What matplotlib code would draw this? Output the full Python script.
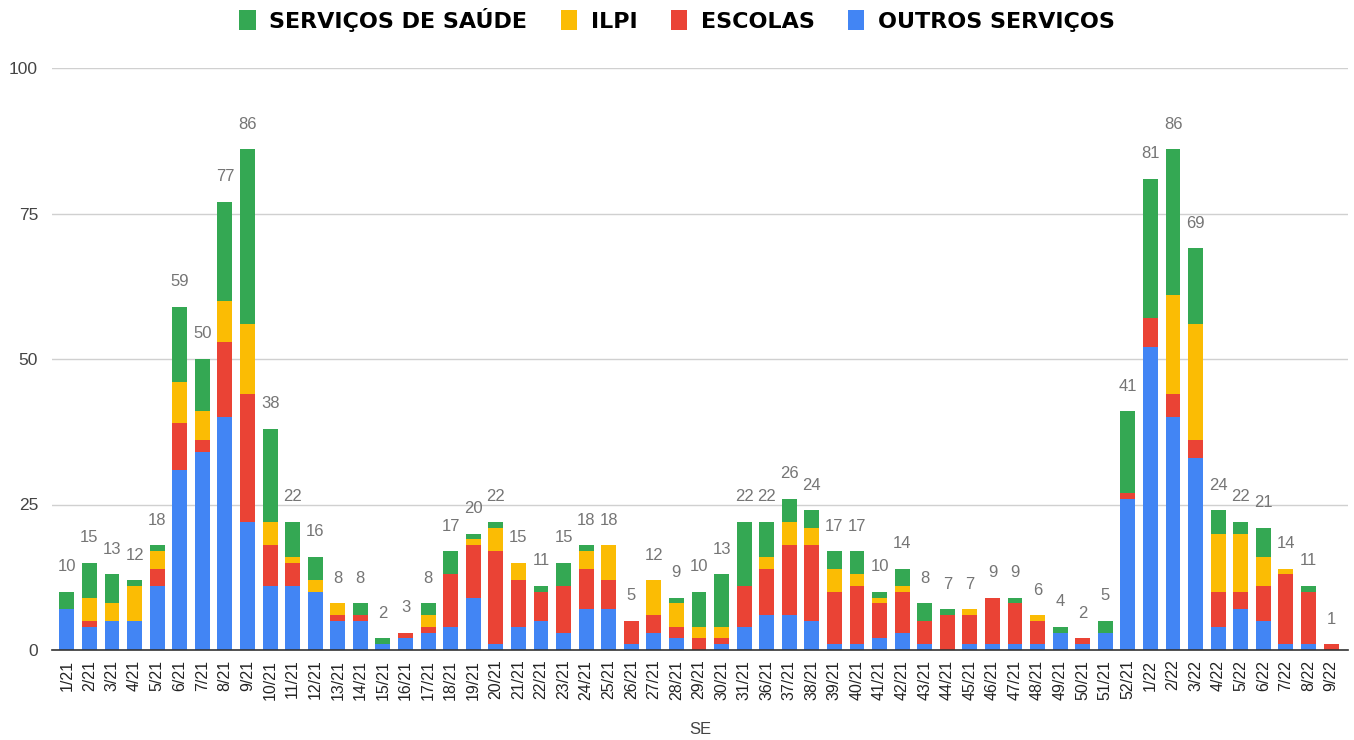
import matplotlib.pyplot as plt
import numpy as np

# semanas epidemiologicas
semanas = [f"{i}/21" for i in range(1, 32)] + [f"{i}/21" for i in range(36, 53)] + [f"{i}/22" for i in range(1, 10)]

outros = [7, 4, 5, 5, 11, 31, 34, 40, 22, 11, 11, 10, 5, 5, 1, 2, 3, 4, 9, 1, 4, 5, 3, 7, 7, 1, 3, 2, 0, 1, 4,
          6, 6, 5, 1, 1, 2, 3, 1, 0, 1, 1, 1, 1, 3, 1, 3, 26,
          52, 40, 33, 4, 7, 5, 1, 1, 0]
escolas = [0, 1, 0, 0, 3, 8, 2, 13, 22, 7, 4, 0, 1, 1, 0, 1, 1, 9, 9, 16, 8, 5, 8, 7, 5, 4, 3, 2, 2, 1, 7,
           8, 12, 13, 9, 10, 6, 7, 4, 6, 5, 8, 7, 4, 0, 1, 0, 1,
           5, 4, 3, 6, 3, 6, 12, 9, 1]
ilpi = [0, 4, 3, 6, 3, 7, 5, 7, 12, 4, 1, 2, 2, 0, 0, 0, 2, 0, 1, 4, 3, 0, 0, 3, 6, 0, 6, 4, 2, 2, 0,
        2, 4, 3, 4, 2, 1, 1, 0, 0, 1, 0, 0, 1, 0, 0, 0, 0,
        0, 17, 20, 10, 10, 5, 1, 0, 0]
saude = [3, 6, 5, 1, 1, 13, 9, 17, 30, 16, 6, 4, 0, 2, 1, 0, 2, 4, 1, 1, 0, 1, 4, 1, 0, 0, 0, 1, 6, 9, 11,
         6, 4, 3, 3, 4, 1, 3, 3, 1, 0, 0, 1, 0, 1, 0, 2, 14,
         24, 25, 13, 4, 2, 5, 0, 1, 0]

cores = {"SERVIÇOS DE SAÚDE": "#34A853", "ILPI": "#FBBC04", "ESCOLAS": "#EA4335", "OUTROS SERVIÇOS": "#4285F4"}

plt.rcParams['font.family'] = ['Liberation Sans', 'DejaVu Sans']

fig = plt.figure(figsize=(13.54, 7.4), dpi=100)
ax = fig.add_axes([52 / 1354, 1 - 650 / 740, 1296 / 1354, 582 / 740])

x = np.arange(len(semanas))
w = 0.66
b1 = np.array(outros)
b2 = b1 + np.array(escolas)
b3 = b2 + np.array(ilpi)
total = b3 + np.array(saude)

ax.bar(x, outros, w, color=cores["OUTROS SERVIÇOS"], label="OUTROS SERVIÇOS", zorder=3)
ax.bar(x, escolas, w, bottom=b1, color=cores["ESCOLAS"], label="ESCOLAS", zorder=3)
ax.bar(x, ilpi, w, bottom=b2, color=cores["ILPI"], label="ILPI", zorder=3)
ax.bar(x, saude, w, bottom=b3, color=cores["SERVIÇOS DE SAÚDE"], label="SERVIÇOS DE SAÚDE", zorder=3)

# totais acima das barras
for xi, t in zip(x, total):
    ax.annotate(str(t), (xi, t), xytext=(0, 25), textcoords="offset pixels",
                ha="center", va="center", fontsize=12, color="#757575")

ax.set_ylim(0, 100)
ax.set_xlim(-0.66, len(semanas) - 0.25)
ax.set_yticks([0, 25, 50, 75, 100])
ax.yaxis.grid(True, color="#d0d0d0", linewidth=1, zorder=0)
ax.tick_params(axis="y", length=0, labelsize=12.5, labelcolor="#444444", pad=10)
ax.set_xticks(x)
ax.set_xticklabels(semanas, rotation=90, fontsize=11.5, color="#222222")
ax.tick_params(axis="x", length=0, pad=7)
for s in ["top", "right", "left"]:
    ax.spines[s].set_visible(False)
ax.spines["bottom"].set_color("#333333")
ax.spines["bottom"].set_linewidth(1.2)
ax.spines["bottom"].set_zorder(4)
ax.set_xlabel("SE", fontsize=12, color="#444444", labelpad=16)

h, l = ax.get_legend_handles_labels()
leg = fig.legend(h[::-1], l[::-1], loc="center", bbox_to_anchor=(0.5, 1 - 20 / 740), ncol=4, frameon=False,
                 prop={"family": "DejaVu Sans", "weight": "bold", "size": 16}, handlelength=0.75,
                 handleheight=1.0, columnspacing=1.5, handletextpad=0.6)

fig.savefig("out.png", dpi=100)
